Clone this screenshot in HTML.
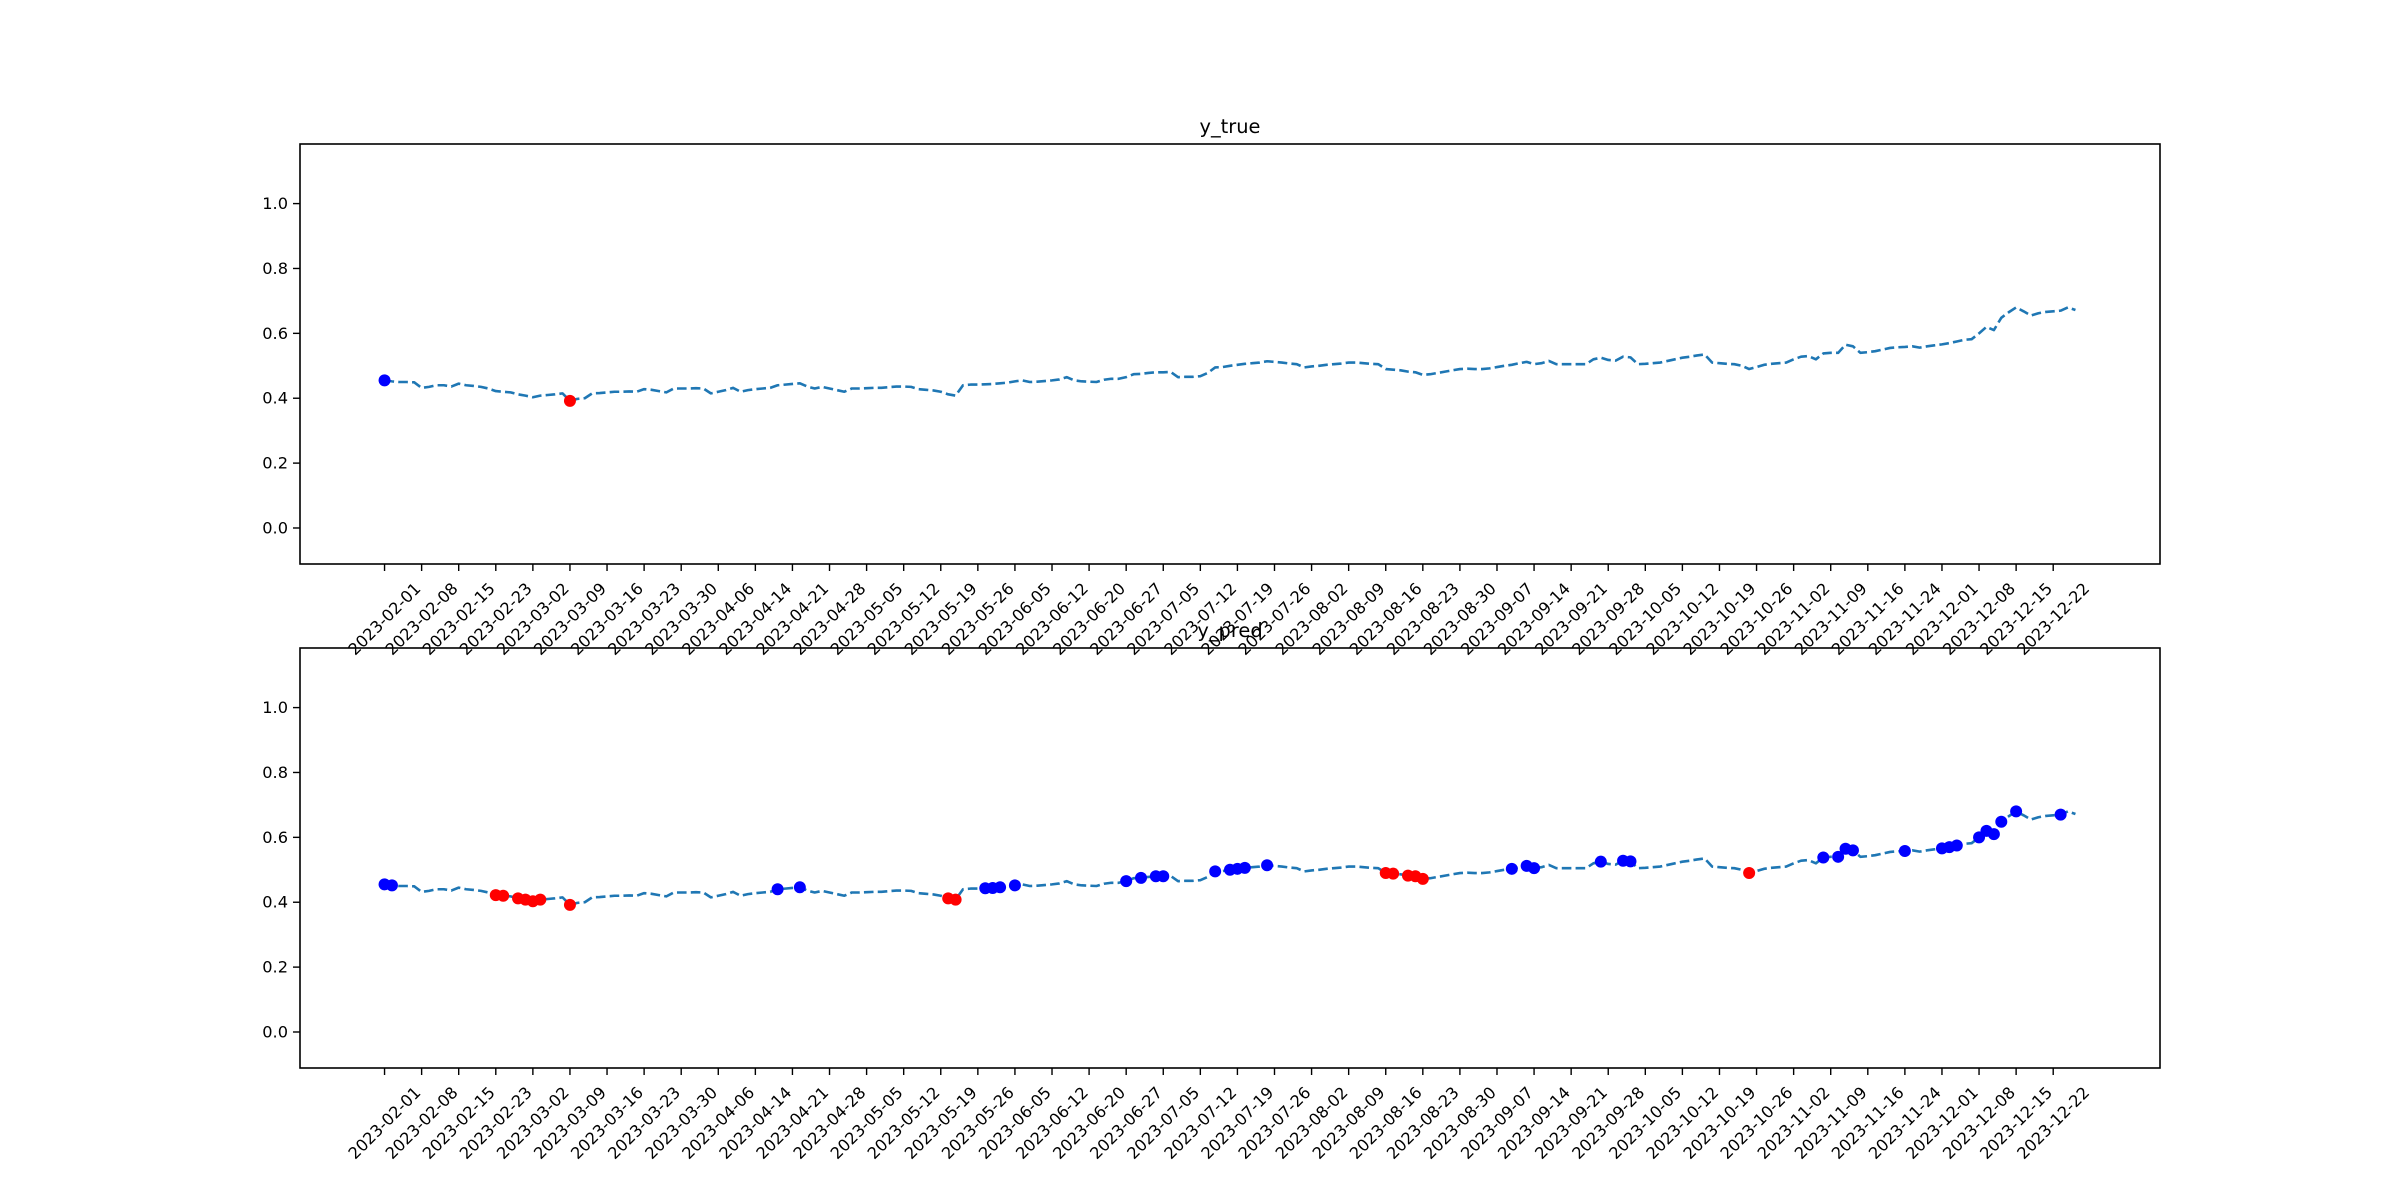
<!DOCTYPE html>
<html><head><meta charset="utf-8"><style>
html,body{margin:0;padding:0;background:#fff;}
svg{display:block;font-family:"DejaVu Sans","Liberation Sans",sans-serif;}
</style></head><body>
<svg id="fig" width="2400" height="1200" viewBox="0 0 2400 1200" xmlns="http://www.w3.org/2000/svg">
<rect x="0" y="0" width="2400" height="1200" fill="#fff"/>
</svg>
<script>
// ---- data ----
const startDate = "2023-02-01";
const endDate = "2023-12-28";
const holidays = ["2023-02-20","2023-04-07","2023-05-29","2023-06-19","2023-07-04","2023-09-04","2023-11-23","2023-12-25"];
const values = [
.455,.452,.450,.450,.449,.432,.435,.440,.440,.436,
.445,.440,.438,.435,.430,.422,.420,.418,.412,.408,
.403,.408,.410,.412,.415,.392,.398,.400,.415,.416,
.418,.420,.420,.421,.420,.428,.426,.422,.418,.430,
.430,.430,.431,.430,.415,.420,.425,.432,.420,.425,
.428,.430,.432,.440,.442,.444,.446,.436,.430,.435,
.430,.425,.420,.430,.430,.431,.432,.432,.434,.436,
.436,.435,.428,.426,.424,.420,.412,.408,.440,.442,
.442,.443,.444,.446,.448,.452,.455,.450,.451,.453,
.455,.458,.465,.455,.452,.451,.450,.457,.460,.460,
.465,.474,.475,.478,.480,.480,.481,.465,.466,.466,
.468,.478,.495,.496,.500,.503,.506,.508,.510,.514,
.512,.510,.507,.505,.495,.498,.500,.503,.505,.507,
.510,.510,.508,.506,.505,.490,.488,.486,.482,.480,
.472,.474,.478,.482,.486,.490,.491,.490,.490,.492,
.496,.500,.503,.508,.512,.505,.508,.515,.505,.505,
.505,.505,.505,.520,.525,.518,.516,.528,.526,.505,
.506,.508,.510,.515,.520,.525,.528,.532,.535,.510,
.508,.506,.505,.500,.490,.496,.503,.506,.508,.510,
.520,.528,.530,.520,.538,.540,.540,.565,.560,.540,
.542,.545,.550,.555,.557,.558,.560,.556,.560,.563,
.566,.570,.575,.580,.582,.600,.620,.610,.648,.665,
.680,.668,.655,.662,.666,.668,.670,.680,.672
];
const trueBlue = [0];
const trueRed = [25];
const predBlue = [0,1,53,56,81,82,83,85,100,102,104,105,112,114,115,116,119,152,154,155,164,167,168,194,196,197,198,205,210,211,212,215,216,217,218,220,226];
const predRed = [15,16,18,19,20,21,25,76,77,135,136,138,139,140,184];
const yTicks = [0.0,0.2,0.4,0.6,0.8,1.0];
const yTickLabels = ["0.0","0.2","0.4","0.6","0.8","1.0"];
const tickEvery = 5;

// ---- dates ----
function pad(n){return (n<10?"0":"")+n;}
function fmt(d){return d.getUTCFullYear()+"-"+pad(d.getUTCMonth()+1)+"-"+pad(d.getUTCDate());}
const dates = [];
(function(){
  let d = new Date(startDate+"T00:00:00Z");
  const e = new Date(endDate+"T00:00:00Z");
  while(d<=e){
    const wd=d.getUTCDay(); const s=fmt(d);
    if(wd!==0&&wd!==6&&holidays.indexOf(s)<0) dates.push(s);
    d = new Date(d.getTime()+86400000);
  }
})();
const n = values.length;
const span = n-1;
const xmin = -0.05*span, xmax = span+0.05*span;
const AX_L=300, AX_W=1860, AX_H=420;
const YMIN=-0.111, YMAX=1.1837;
function xs(i){return AX_L+(i-xmin)/(xmax-xmin)*AX_W;}

const NS="http://www.w3.org/2000/svg";
const svg=document.getElementById("fig");
function mk(tag,attrs,parent){const e=document.createElementNS(NS,tag);for(const k in attrs)e.setAttribute(k,attrs[k]);(parent||svg).appendChild(e);return e;}

function panel(top, title, blueIdx, redIdx, key){
  const g=mk("g",{});
  
  
  function ys(v){return top+AX_H-(v-YMIN)/(YMAX-YMIN)*AX_H;}
  let d="";
  for(let i=0;i<n;i++){d+=(i?"L":"M")+xs(i).toFixed(2)+" "+ys(values[i]).toFixed(2);}
  const line=mk("path",{d:d,fill:"none",stroke:"#1f77b4","stroke-width":"2.6","stroke-dasharray":"9.6 4.2","stroke-linejoin":"round"},g);
  
  
  for(const i of blueIdx){
    if(i>=n) continue;
    const c=mk("circle",{cx:xs(i),cy:ys(values[i]),r:6,fill:"#0000ff"},g);
    
    
  }
  for(const i of redIdx){
    if(i>=n) continue;
    const c=mk("circle",{cx:xs(i),cy:ys(values[i]),r:6,fill:"#ff0000"},g);
    
    
  }
  const fr=mk("rect",{x:AX_L,y:top,width:AX_W,height:AX_H,fill:"none",stroke:"#000","stroke-width":"1.6"},g);
  
  
  yTicks.forEach((v,k)=>{
    const y=ys(v);
    const t=mk("line",{x1:AX_L-7,x2:AX_L,y1:y,y2:y,stroke:"#000","stroke-width":"1.4"},g);
    
    
    const tx=mk("text",{x:AX_L-12,y:y,"font-size":"16.2","text-anchor":"end","dominant-baseline":"central",fill:"#000"},g);
    tx.textContent=yTickLabels[k];
    
    
  });
  for(let i=0;i<n && i<dates.length;i+=tickEvery){
    const x=xs(i);
    const t=mk("line",{x1:x,x2:x,y1:top+AX_H,y2:top+AX_H+7,stroke:"#000","stroke-width":"1.4"},g);
    
    
    const cy=top+AX_H+12+43;
    const tx=mk("text",{x:x,y:cy,"font-size":"16.2","text-anchor":"middle","dominant-baseline":"central",fill:"#000",transform:"rotate(-45 "+x+" "+cy+")"},g);
    tx.textContent=dates[i];
    
    
  }
  const tt=mk("text",{x:AX_L+AX_W/2,y:top-11,"font-size":"19.4","text-anchor":"middle",fill:"#000"},g);
  tt.textContent=title;
  
  
}
panel(144,"y_true",trueBlue,trueRed,"y-true");
panel(648,"y_pred",predBlue,predRed,"y-pred");
</script>
</body></html>
